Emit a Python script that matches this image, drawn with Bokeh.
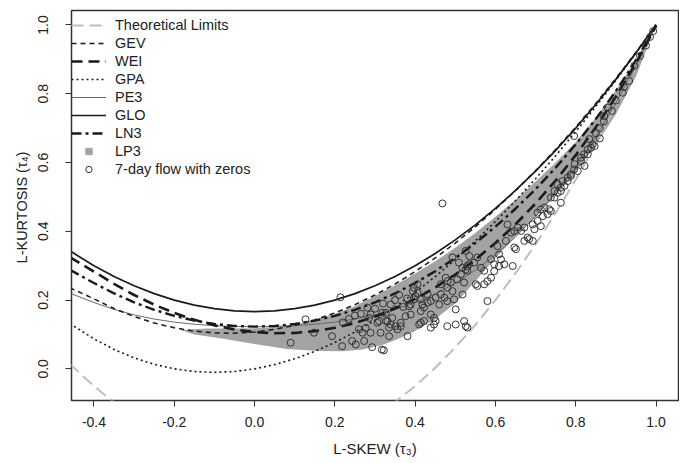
from bokeh.plotting import figure
from bokeh.models import Range1d, FixedTicker, Legend, LegendItem, PrintfTickFormatter
from bokeh.embed import file_html
from bokeh.resources import INLINE

# ---------------- data ----------------
tau3_grid = [-0.46, -0.40, -0.35, -0.30, -0.25, -0.20, -0.15, -0.10, -0.05, 0.00,
             0.05, 0.10, 0.15, 0.20, 0.25, 0.30, 0.35, 0.40, 0.45, 0.50,
             0.55, 0.60, 0.65, 0.70, 0.75, 0.80, 0.85, 0.90, 0.95, 1.00]

glo = [0.343, 0.300, 0.2688, 0.2417, 0.2188, 0.2000, 0.1854, 0.1750, 0.1688, 0.1667,
       0.1688, 0.1750, 0.1854, 0.2000, 0.2188, 0.2417, 0.2688, 0.3000, 0.3354, 0.3750,
       0.4188, 0.4667, 0.5188, 0.5750, 0.6354, 0.7000, 0.7688, 0.8417, 0.9188, 1.0]

gev = [0.2360, 0.2034, 0.1754, 0.1521, 0.1334, 0.1193, 0.1097, 0.1045, 0.1036, 0.1070,
       0.1147, 0.1265, 0.1425, 0.1626, 0.1867, 0.2148, 0.2468, 0.2827, 0.3224, 0.3658,
       0.4130, 0.4638, 0.5182, 0.5762, 0.6378, 0.7029, 0.7718, 0.8443, 0.9206, 1.0]

wei = [0.3250, 0.2827, 0.2468, 0.2148, 0.1867, 0.1626, 0.1425, 0.1265, 0.1147, 0.1070,
       0.1036, 0.1045, 0.1097, 0.1193, 0.1334, 0.1521, 0.1754, 0.2034, 0.2363, 0.2743,
       0.3174, 0.3661, 0.4204, 0.4808, 0.5477, 0.6214, 0.7025, 0.7916, 0.8893, 0.9966]

gpa = [0.1317, 0.0870, 0.0565, 0.0319, 0.0132, 0.0000, -0.0077, -0.0102, -0.0076, 0.0000,
       0.0124, 0.0294, 0.0510, 0.0769, 0.1071, 0.1415, 0.1799, 0.2222, 0.2683, 0.3182,
       0.3716, 0.4286, 0.4889, 0.5526, 0.6196, 0.6897, 0.7628, 0.8390, 0.9181, 1.0]

pe3 = [0.2200, 0.1929, 0.1727, 0.1569, 0.1448, 0.1359, 0.1297, 0.1255, 0.1232, 0.1224,
       0.1232, 0.1255, 0.1297, 0.1359, 0.1448, 0.1569, 0.1727, 0.1929, 0.2182, 0.2493,
       0.2869, 0.3314, 0.3835, 0.4435, 0.5120, 0.5894, 0.6761, 0.7729, 0.8806, 1.0]

ln3 = [0.2880, 0.2495, 0.2194, 0.1935, 0.1717, 0.1540, 0.1403, 0.1306, 0.1248, 0.1228,
       0.1248, 0.1306, 0.1403, 0.1540, 0.1717, 0.1935, 0.2194, 0.2495, 0.2839, 0.3226,
       0.3657, 0.4133, 0.4656, 0.5226, 0.5848, 0.6526, 0.7265, 0.8077, 0.8976, 1.0]

lim_left_t = [-0.46, -0.42, -0.38, -0.34]
lim_left_k = [0.0145, -0.0295, -0.0695, -0.1055]
lim_right_t = [0.34, 0.40, 0.45, 0.50, 0.55, 0.60, 0.65, 0.70, 0.75, 0.80, 0.85, 0.90, 0.95, 1.00]
lim_right_k = [-0.1055, -0.0500, 0.0031, 0.0625, 0.1281, 0.2000, 0.2781, 0.3625, 0.4531,
               0.5500, 0.6531, 0.7625, 0.8781, 1.0]

lp3_upper_t = [-0.185, -0.12, -0.06, 0.00, 0.05, 0.10, 0.15, 0.20, 0.25, 0.30, 0.35, 0.40,
               0.45, 0.50, 0.55, 0.60, 0.65, 0.70, 0.75, 0.80, 0.85, 0.90, 0.95, 1.00]
lp3_upper_k = [0.113, 0.117, 0.117, 0.118, 0.122, 0.130, 0.143, 0.160, 0.183, 0.212, 0.243, 0.277,
               0.313, 0.352, 0.395, 0.442, 0.492, 0.545, 0.600, 0.660, 0.730, 0.810, 0.897, 1.0]
lp3_lower_t = [-0.185, -0.15, -0.085, 0.00, 0.08, 0.16, 0.22, 0.27, 0.32, 0.36, 0.40, 0.45,
               0.50, 0.55, 0.60, 0.65, 0.70, 0.75, 0.80, 0.85, 0.90, 0.95, 1.00]
lp3_lower_k = [0.113, 0.100, 0.089, 0.072, 0.058, 0.052, 0.051, 0.056, 0.070, 0.088, 0.110, 0.145,
               0.190, 0.255, 0.322, 0.385, 0.443, 0.505, 0.572, 0.650, 0.740, 0.850, 1.0]

obs_t3 = [0.090, 0.127, 0.148, 0.193, 0.214, 0.218, 0.220, 0.235, 0.243, 0.252, 0.250, 0.260,
          0.265, 0.269, 0.273, 0.277, 0.281, 0.285, 0.289, 0.289, 0.293, 0.300, 0.306, 0.310,
          0.314, 0.317, 0.318, 0.320, 0.322, 0.327, 0.327, 0.331, 0.335, 0.335, 0.339, 0.339,
          0.343, 0.350, 0.351, 0.356, 0.360, 0.364, 0.364, 0.370, 0.376, 0.380, 0.381, 0.385,
          0.389, 0.389, 0.394, 0.397, 0.397, 0.401, 0.406, 0.406, 0.410, 0.414, 0.414, 0.414,
          0.418, 0.422, 0.422, 0.431, 0.431, 0.439, 0.439, 0.439, 0.447, 0.447, 0.451, 0.451,
          0.460, 0.464, 0.464, 0.468, 0.473, 0.476, 0.480, 0.480, 0.480, 0.481, 0.489, 0.493,
          0.493, 0.497, 0.501, 0.501, 0.505, 0.509, 0.514, 0.518, 0.518, 0.522, 0.522, 0.526,
          0.526, 0.526, 0.530, 0.530, 0.530, 0.535, 0.535, 0.547, 0.551, 0.555, 0.555, 0.564,
          0.572, 0.572, 0.580, 0.580, 0.589, 0.589, 0.597, 0.597, 0.605, 0.609, 0.609, 0.614,
          0.622, 0.626, 0.630, 0.639, 0.643, 0.647, 0.647, 0.651, 0.655, 0.664, 0.672, 0.672,
          0.680, 0.684, 0.693, 0.693, 0.697, 0.705, 0.705, 0.713, 0.713, 0.718, 0.722, 0.730,
          0.734, 0.738, 0.738, 0.747, 0.747, 0.755, 0.755, 0.763, 0.763, 0.763, 0.767, 0.772,
          0.780, 0.780, 0.788, 0.788, 0.796, 0.796, 0.797, 0.805, 0.813, 0.813, 0.821, 0.822,
          0.830, 0.830, 0.834, 0.838, 0.842, 0.847, 0.850, 0.860, 0.860, 0.870, 0.871, 0.880,
          0.890, 0.900, 0.917, 0.920, 0.933, 0.946, 0.960, 0.975, 0.985, 0.993]
obs_t4 = [0.076, 0.144, 0.105, 0.095, 0.208, 0.066, 0.135, 0.145, 0.081, 0.071, 0.155, 0.115,
          0.160, 0.105, 0.081, 0.119, 0.178, 0.148, 0.105, 0.158, 0.063, 0.175, 0.134, 0.139,
          0.105, 0.056, 0.163, 0.190, 0.054, 0.139, 0.163, 0.139, 0.095, 0.120, 0.129, 0.187,
          0.148, 0.200, 0.124, 0.115, 0.215, 0.124, 0.134, 0.180, 0.153, 0.205, 0.095, 0.182,
          0.158, 0.187, 0.226, 0.202, 0.236, 0.211, 0.221, 0.246, 0.129, 0.134, 0.168, 0.202,
          0.187, 0.139, 0.178, 0.192, 0.216, 0.120, 0.158, 0.197, 0.129, 0.148, 0.139, 0.207,
          0.187, 0.217, 0.246, 0.481, 0.207, 0.265, 0.124, 0.197, 0.236, 0.255, 0.251, 0.226,
          0.324, 0.202, 0.129, 0.173, 0.260, 0.309, 0.275, 0.216, 0.294, 0.139, 0.251, 0.124,
          0.289, 0.343, 0.120, 0.285, 0.299, 0.304, 0.328, 0.309, 0.246, 0.241, 0.324, 0.294,
          0.246, 0.285, 0.197, 0.255, 0.265, 0.319, 0.284, 0.304, 0.357, 0.299, 0.333, 0.318,
          0.304, 0.372, 0.420, 0.396, 0.299, 0.353, 0.401, 0.348, 0.411, 0.401, 0.372, 0.411,
          0.382, 0.377, 0.372, 0.420, 0.406, 0.430, 0.454, 0.415, 0.464, 0.444, 0.469, 0.450,
          0.464, 0.459, 0.498, 0.498, 0.517, 0.512, 0.537, 0.483, 0.517, 0.527, 0.546, 0.532,
          0.546, 0.556, 0.561, 0.566, 0.580, 0.677, 0.595, 0.575, 0.604, 0.614, 0.624, 0.590,
          0.624, 0.638, 0.668, 0.643, 0.653, 0.648, 0.685, 0.670, 0.700, 0.720, 0.735, 0.760,
          0.750, 0.780, 0.803, 0.820, 0.837, 0.881, 0.910, 0.940, 0.965, 0.982]

x_ticks = [-0.4, -0.2, 0.0, 0.2, 0.4, 0.6, 0.8, 1.0]
y_ticks = [0.0, 0.2, 0.4, 0.6, 0.8, 1.0]

# ---------------- figure ----------------
p = figure(width=679, height=462, output_backend="svg", toolbar_location=None,
           x_range=Range1d(-0.456, 1.056), y_range=Range1d(-0.092, 1.042),
           min_border_left=71, min_border_right=1, min_border_top=10, min_border_bottom=62)
p.xgrid.visible = False
p.ygrid.visible = False
p.outline_line_color = "#333333"
p.outline_line_width = 1.5
p.background_fill_color = "white"
p.border_fill_color = "white"

for ax in (p.xaxis, p.yaxis):
    ax.axis_line_color = None
    ax.major_tick_line_color = "#333333"
    ax.major_tick_line_width = 1
    ax.major_tick_out = 6
    ax.major_tick_in = 0
    ax.minor_tick_line_color = None
    ax.major_label_text_font = "Liberation Sans"
    ax.major_label_text_color = "#222222"
    ax.axis_label_text_font = "Liberation Sans"
    ax.axis_label_text_font_style = "normal"
    ax.axis_label_text_color = "#222222"
    ax.formatter = PrintfTickFormatter(format="%.1f")

p.xaxis.ticker = FixedTicker(ticks=x_ticks)
p.yaxis.ticker = FixedTicker(ticks=y_ticks)
p.xaxis.major_label_text_font_size = "14px"
p.yaxis.major_label_text_font_size = "14px"
p.xaxis.major_label_standoff = 10
p.yaxis.major_label_standoff = 17
p.yaxis.major_label_orientation = "vertical"
p.xaxis.axis_label = "L-SKEW (τ₃)"
p.yaxis.axis_label = "L-KURTOSIS  (τ₄)"
p.xaxis.axis_label_text_font_size = "15px"
p.yaxis.axis_label_text_font_size = "14.5px"
p.xaxis.axis_label_standoff = 10
p.yaxis.axis_label_standoff = 6

# LP3 region
band_x = lp3_upper_t + lp3_lower_t[::-1]
band_y = lp3_upper_k + lp3_lower_k[::-1]
p.patch(band_x, band_y, fill_color="#a3a3a3", line_color=None)

r_lim = p.line(lim_left_t, lim_left_k, line_color="#bdbdbd", line_width=2, line_dash="12 6")
p.line(lim_right_t, lim_right_k, line_color="#bdbdbd", line_width=2, line_dash="12 6")
r_pe3 = p.line(tau3_grid, pe3, line_color="#6a6a6a", line_width=1)
r_gpa = p.line(tau3_grid, gpa, line_color="#1a1a1a", line_width=1.6, line_dash="2 3")
r_wei = p.line(tau3_grid, wei, line_color="#1a1a1a", line_width=2.6, line_dash="11 6")
r_ln3 = p.line(tau3_grid, ln3, line_color="#1a1a1a", line_width=2.4, line_dash="10 4 3 4")
r_gev = p.line(tau3_grid, gev, line_color="#1a1a1a", line_width=1.5, line_dash="5 4")
r_glo = p.line(tau3_grid, glo, line_color="#1a1a1a", line_width=1.7)

r_lp3 = p.scatter([-5.0], [-5.0], marker="square", size=7, fill_color="#a3a3a3",
                  line_color="#a3a3a3")
r_obs = p.scatter(obs_t3, obs_t4, marker="circle", size=7, fill_color=None,
                  line_color="#333333", line_width=1)

legend = Legend(items=[
    LegendItem(label="Theoretical Limits", renderers=[r_lim]),
    LegendItem(label="GEV", renderers=[r_gev]),
    LegendItem(label="WEI", renderers=[r_wei]),
    LegendItem(label="GPA", renderers=[r_gpa]),
    LegendItem(label="PE3", renderers=[r_pe3]),
    LegendItem(label="GLO", renderers=[r_glo]),
    LegendItem(label="LN3", renderers=[r_ln3]),
    LegendItem(label="LP3", renderers=[r_lp3]),
    LegendItem(label="7-day flow with zeros", renderers=[r_obs]),
], location=(0, 223))
legend.border_line_color = None
legend.background_fill_alpha = 0
legend.margin = 0
legend.padding = 2
legend.spacing = 2
legend.glyph_width = 35
legend.glyph_height = 16
legend.label_height = 16
legend.label_standoff = 9
legend.label_text_font = "Liberation Sans"
legend.label_text_font_size = "14.5px"
legend.label_text_color = "#222222"
p.add_layout(legend)

open("out.html", "w").write(file_html(p, INLINE))
